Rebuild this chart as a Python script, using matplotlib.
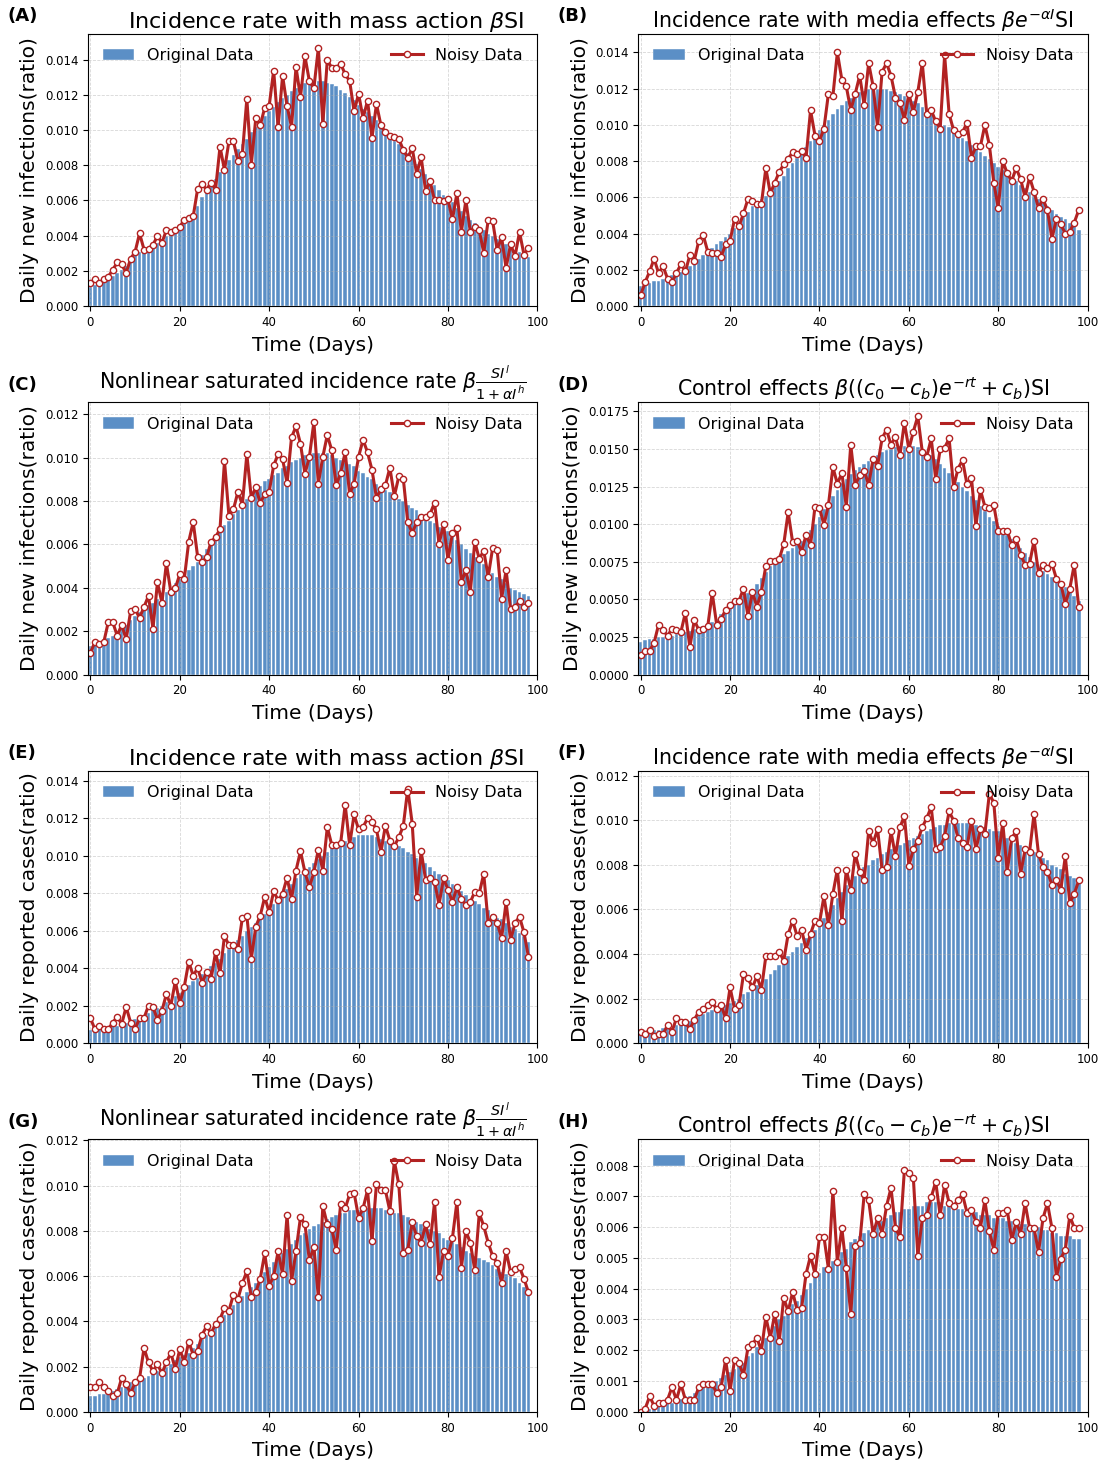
import numpy as np
import matplotlib
matplotlib.use("Agg")
import matplotlib.pyplot as plt

days = np.arange(99)

# --- daily new infections, four incidence models ---
a_orig = [0.0011, 0.0012, 0.0013, 0.00142, 0.00155, 0.0017, 0.00187, 0.00205, 0.00225, 0.0026,
          0.0029, 0.0031, 0.0032, 0.0033, 0.0034, 0.0036, 0.0038, 0.0040, 0.0042, 0.0043,
          0.0044, 0.0047, 0.0050, 0.0053, 0.0057, 0.0062, 0.0066, 0.0069, 0.0072, 0.0076,
          0.0080, 0.0083, 0.0086, 0.0089, 0.0092, 0.0095, 0.0099, 0.0102, 0.0105, 0.0108,
          0.0111, 0.0113, 0.0116, 0.0118, 0.0120, 0.0122, 0.0124, 0.0126, 0.0127, 0.0128,
          0.0128, 0.0128, 0.0128, 0.0127, 0.0126, 0.0125, 0.0123, 0.0121, 0.0119, 0.0117,
          0.0114, 0.0112, 0.0110, 0.0108, 0.0106, 0.0103, 0.0100, 0.0097, 0.0094, 0.0092,
          0.0090, 0.0087, 0.0084, 0.0081, 0.0078, 0.0075, 0.0072, 0.0069, 0.0066, 0.0063,
          0.0061, 0.0059, 0.0056, 0.0054, 0.0051, 0.0049, 0.0047, 0.0045, 0.0043, 0.0041,
          0.0040, 0.0038, 0.0036, 0.0035, 0.0033, 0.0032, 0.0031, 0.0029, 0.0028]
a_noisy = [0.00129, 0.00156, 0.00129, 0.00156, 0.00167, 0.00206, 0.00248, 0.00237, 0.00188, 0.00269,
           0.00308, 0.00413, 0.00321, 0.00327, 0.00348, 0.00398, 0.00360, 0.00431, 0.00423, 0.00431,
           0.00450, 0.00490, 0.00500, 0.00510, 0.00667, 0.00692, 0.00662, 0.00702, 0.00662, 0.00906,
           0.00773, 0.00937, 0.00937, 0.00823, 0.00864, 0.01177, 0.00804, 0.01067, 0.01027, 0.01127,
           0.01138, 0.01338, 0.01017, 0.01308, 0.01137, 0.01017, 0.01358, 0.01187, 0.01419, 0.01277,
           0.01238, 0.01467, 0.01036, 0.01398, 0.01354, 0.01354, 0.01377, 0.01317, 0.01279, 0.01106,
           0.01206, 0.01067, 0.01167, 0.00956, 0.01148, 0.01027, 0.00987, 0.00967, 0.00961, 0.00950,
           0.00887, 0.00844, 0.00896, 0.00752, 0.00846, 0.00654, 0.00710, 0.00600, 0.00600, 0.00596,
           0.00606, 0.00492, 0.00642, 0.00421, 0.00602, 0.00421, 0.00452, 0.00431, 0.00302, 0.00490,
           0.00481, 0.00321, 0.00390, 0.00217, 0.00352, 0.00283, 0.00421, 0.00292, 0.00329]

b_orig = [0.0011, 0.0012, 0.0013, 0.0014, 0.0014, 0.0015, 0.0016, 0.0017, 0.0018, 0.0019,
          0.0020, 0.0022, 0.0024, 0.0026, 0.0028, 0.0030, 0.0032, 0.0034, 0.0036, 0.0038,
          0.0040, 0.0043, 0.0046, 0.0049, 0.0052, 0.0055, 0.0057, 0.0059, 0.0061, 0.0063,
          0.0066, 0.0069, 0.0072, 0.0076, 0.0079, 0.0082, 0.0085, 0.0088, 0.0091, 0.0094,
          0.0097, 0.0100, 0.0103, 0.0106, 0.0109, 0.0111, 0.0113, 0.0115, 0.0117, 0.0118,
          0.0119, 0.0120, 0.0120, 0.0120, 0.0120, 0.0120, 0.0119, 0.0118, 0.0117, 0.0116,
          0.0115, 0.0113, 0.0112, 0.0110, 0.0108, 0.0106, 0.0104, 0.0102, 0.0100, 0.0099,
          0.0097, 0.0095, 0.0093, 0.0091, 0.0089, 0.0087, 0.0085, 0.0083, 0.0081, 0.0079,
          0.0077, 0.0075, 0.0073, 0.0071, 0.0069, 0.0067, 0.0065, 0.0063, 0.0061, 0.0059,
          0.0057, 0.0055, 0.0053, 0.0051, 0.0049, 0.0048, 0.0046, 0.0044, 0.0042]
b_noisy = [0.00061, 0.00132, 0.00191, 0.00261, 0.00182, 0.00220, 0.00152, 0.00132, 0.00182, 0.00231,
           0.00191, 0.00281, 0.00251, 0.00361, 0.00391, 0.00301, 0.00292, 0.00292, 0.00272, 0.00341,
           0.00361, 0.00481, 0.00440, 0.00512, 0.00591, 0.00582, 0.00562, 0.00562, 0.00761, 0.00622,
           0.00681, 0.00741, 0.00782, 0.00813, 0.00850, 0.00842, 0.00857, 0.00820, 0.01081, 0.00941,
           0.00912, 0.00980, 0.01173, 0.01160, 0.01400, 0.01250, 0.01213, 0.01081, 0.01173, 0.01272,
           0.01110, 0.01341, 0.01213, 0.00989, 0.01292, 0.01341, 0.01272, 0.01151, 0.01121, 0.01030,
           0.01173, 0.01070, 0.01182, 0.01341, 0.01061, 0.01081, 0.01020, 0.00980, 0.01385, 0.01061,
           0.00971, 0.00950, 0.00960, 0.01011, 0.00820, 0.00881, 0.00881, 0.01000, 0.00890, 0.00681,
           0.00540, 0.00802, 0.00732, 0.00692, 0.00761, 0.00701, 0.00600, 0.00712, 0.00631, 0.00541,
           0.00591, 0.00530, 0.00371, 0.00481, 0.00451, 0.00400, 0.00411, 0.00461, 0.00530]

c_orig = [0.0013, 0.0014, 0.0015, 0.0016, 0.0017, 0.0018, 0.0020, 0.0021, 0.0023, 0.0025,
          0.0027, 0.0029, 0.0030, 0.0032, 0.0033, 0.0035, 0.0037, 0.0038, 0.0040, 0.0042,
          0.0044, 0.0046, 0.0048, 0.0050, 0.0052, 0.0055, 0.0058, 0.0061, 0.0064, 0.0066,
          0.0069, 0.0071, 0.0074, 0.0076, 0.0079, 0.0081, 0.0083, 0.0085, 0.0087, 0.0089,
          0.0090, 0.0092, 0.0093, 0.0095, 0.0096, 0.0098, 0.0099, 0.0100, 0.0101, 0.0101,
          0.0102, 0.0102, 0.0102, 0.0102, 0.0101, 0.0100, 0.0099, 0.0098, 0.0097, 0.0096,
          0.0094, 0.0093, 0.0091, 0.0090, 0.0088, 0.0086, 0.0085, 0.0084, 0.0082, 0.0081,
          0.0080, 0.0078, 0.0077, 0.0076, 0.0074, 0.0073, 0.0071, 0.0070, 0.0068, 0.0067,
          0.0066, 0.0064, 0.0062, 0.0060, 0.0058, 0.0056, 0.0054, 0.0052, 0.0051, 0.0049,
          0.0047, 0.0045, 0.0044, 0.0042, 0.0040, 0.0039, 0.0038, 0.0037, 0.0036]
c_noisy = [0.00100, 0.00150, 0.00142, 0.00150, 0.00242, 0.00242, 0.00179, 0.00230, 0.00162, 0.00292,
           0.00301, 0.00262, 0.00312, 0.00363, 0.00212, 0.00425, 0.00332, 0.00513, 0.00381, 0.00398,
           0.00463, 0.00440, 0.00613, 0.00703, 0.00542, 0.00520, 0.00540, 0.00613, 0.00632, 0.00672,
           0.00984, 0.00730, 0.00761, 0.00842, 0.00783, 0.01015, 0.00814, 0.00863, 0.00790, 0.00832,
           0.00842, 0.00964, 0.01015, 0.00993, 0.00882, 0.01093, 0.01144, 0.01064, 0.00925, 0.01004,
           0.01164, 0.00880, 0.01004, 0.01104, 0.01033, 0.00872, 0.00931, 0.01024, 0.00832, 0.00880,
           0.01004, 0.01082, 0.01024, 0.00943, 0.00814, 0.00854, 0.00872, 0.00953, 0.00823, 0.00913,
           0.00903, 0.00703, 0.00652, 0.00703, 0.00726, 0.00726, 0.00741, 0.00792, 0.00602, 0.00692,
           0.00530, 0.00652, 0.00675, 0.00425, 0.00483, 0.00381, 0.00613, 0.00533, 0.00571, 0.00451,
           0.00585, 0.00574, 0.00350, 0.00482, 0.00301, 0.00312, 0.00338, 0.00313, 0.00332]

d_orig = [0.0022, 0.0023, 0.0024, 0.0024, 0.0025, 0.0025, 0.0026, 0.0026, 0.0027, 0.0027,
          0.0028, 0.0029, 0.0030, 0.0031, 0.0032, 0.0033, 0.0035, 0.0037, 0.0040, 0.0043,
          0.0046, 0.0048, 0.0050, 0.0052, 0.0054, 0.0057, 0.0060, 0.0064, 0.0068, 0.0072,
          0.0076, 0.0078, 0.0080, 0.0082, 0.0084, 0.0086, 0.0089, 0.0092, 0.0096, 0.0100,
          0.0105, 0.0110, 0.0115, 0.0119, 0.0123, 0.0127, 0.0130, 0.0133, 0.0136, 0.0138,
          0.0140, 0.0142, 0.0144, 0.0146, 0.0148, 0.0149, 0.0150, 0.0151, 0.0152, 0.0152,
          0.0152, 0.0152, 0.0151, 0.0150, 0.0148, 0.0146, 0.0143, 0.0140, 0.0137, 0.0134,
          0.0131, 0.0128, 0.0125, 0.0122, 0.0119, 0.0116, 0.0112, 0.0109, 0.0105, 0.0102,
          0.0099, 0.0096, 0.0093, 0.0090, 0.0087, 0.0084, 0.0081, 0.0078, 0.0075, 0.0072,
          0.0069, 0.0067, 0.0065, 0.0062, 0.0060, 0.0058, 0.0055, 0.0052, 0.0049]
d_noisy = [0.00131, 0.00157, 0.00160, 0.00211, 0.00332, 0.00295, 0.00259, 0.00304, 0.00295, 0.00284,
           0.00412, 0.00182, 0.00363, 0.00295, 0.00304, 0.00321, 0.00543, 0.00332, 0.00370, 0.00430,
           0.00461, 0.00490, 0.00490, 0.00572, 0.00390, 0.00550, 0.00450, 0.00550, 0.00722, 0.00756,
           0.00756, 0.00769, 0.00866, 0.01079, 0.00878, 0.00889, 0.00815, 0.00929, 0.00860, 0.01117,
           0.01108, 0.00995, 0.01126, 0.01378, 0.01268, 0.01339, 0.01117, 0.01527, 0.01259, 0.01325,
           0.01356, 0.01259, 0.01436, 0.01387, 0.01569, 0.01627, 0.01527, 0.01580, 0.01458, 0.01675,
           0.01498, 0.01615, 0.01717, 0.01480, 0.01449, 0.01569, 0.01299, 0.01498, 0.01507, 0.01569,
           0.01245, 0.01369, 0.01425, 0.01265, 0.01307, 0.00988, 0.01228, 0.01117, 0.01108, 0.01126,
           0.00955, 0.00955, 0.00957, 0.00860, 0.00900, 0.00798, 0.00729, 0.00738, 0.00889, 0.00678,
           0.00729, 0.00707, 0.00738, 0.00638, 0.00605, 0.00470, 0.00572, 0.00731, 0.00450]

# --- daily reported cases, same four models ---
e_orig = [0.0007, 0.0007, 0.0008, 0.0008, 0.0008, 0.0009, 0.0009, 0.0010, 0.0011, 0.0012,
          0.0013, 0.0014, 0.0015, 0.0016, 0.0018, 0.0019, 0.0020, 0.0022, 0.0023, 0.0025,
          0.0027, 0.0029, 0.0031, 0.0033, 0.0035, 0.0037, 0.0039, 0.0041, 0.0043, 0.0045,
          0.0048, 0.0050, 0.0052, 0.0055, 0.0057, 0.0060, 0.0062, 0.0064, 0.0066, 0.0069,
          0.0071, 0.0074, 0.0076, 0.0079, 0.0082, 0.0085, 0.0088, 0.0090, 0.0092, 0.0094,
          0.0096, 0.0098, 0.0100, 0.0102, 0.0104, 0.0105, 0.0107, 0.0108, 0.0109, 0.0110,
          0.0111, 0.0111, 0.0111, 0.0111, 0.0110, 0.0109, 0.0108, 0.0107, 0.0106, 0.0105,
          0.0104, 0.0102, 0.0101, 0.0099, 0.0098, 0.0096, 0.0094, 0.0092, 0.0090, 0.0088,
          0.0087, 0.0085, 0.0083, 0.0081, 0.0079, 0.0077, 0.0076, 0.0074, 0.0072, 0.0071,
          0.0069, 0.0067, 0.0066, 0.0064, 0.0062, 0.0061, 0.0059, 0.0057, 0.0054]
e_noisy = [0.00134, 0.00075, 0.00093, 0.00075, 0.00075, 0.00110, 0.00141, 0.00102, 0.00194, 0.00110,
           0.00075, 0.00134, 0.00134, 0.00201, 0.00194, 0.00125, 0.00173, 0.00262, 0.00201, 0.00331,
           0.00212, 0.00301, 0.00435, 0.00360, 0.00401, 0.00321, 0.00381, 0.00342, 0.00484, 0.00372,
           0.00573, 0.00522, 0.00522, 0.00502, 0.00670, 0.00680, 0.00449, 0.00622, 0.00680, 0.00780,
           0.00698, 0.00810, 0.00762, 0.00798, 0.00883, 0.00769, 0.00921, 0.01024, 0.00912, 0.00832,
           0.00912, 0.01033, 0.00921, 0.01152, 0.01058, 0.01058, 0.01069, 0.01272, 0.01058, 0.01220,
           0.01140, 0.01152, 0.01200, 0.01179, 0.01140, 0.01019, 0.01161, 0.01081, 0.01051, 0.01099,
           0.01158, 0.01357, 0.01170, 0.00780, 0.01024, 0.00871, 0.00880, 0.00862, 0.00739, 0.00880,
           0.00819, 0.00752, 0.00832, 0.00769, 0.00737, 0.00752, 0.00809, 0.00801, 0.00903, 0.00641,
           0.00675, 0.00641, 0.00561, 0.00752, 0.00549, 0.00641, 0.00675, 0.00591, 0.00461]

f_orig = [0.0005, 0.0005, 0.0006, 0.0006, 0.0006, 0.0007, 0.0007, 0.0007, 0.0008, 0.0008,
          0.0009, 0.0010, 0.0011, 0.0012, 0.0013, 0.0014, 0.0015, 0.0016, 0.0016, 0.0017,
          0.0018, 0.0019, 0.0020, 0.0022, 0.0023, 0.0024, 0.0026, 0.0027, 0.0029, 0.0031,
          0.0033, 0.0035, 0.0037, 0.0039, 0.0041, 0.0043, 0.0045, 0.0047, 0.0049, 0.0051,
          0.0053, 0.0056, 0.0059, 0.0062, 0.0065, 0.0068, 0.0071, 0.0073, 0.0075, 0.0077,
          0.0079, 0.0080, 0.0082, 0.0083, 0.0085, 0.0086, 0.0087, 0.0088, 0.0089, 0.0090,
          0.0091, 0.0092, 0.0093, 0.0094, 0.0095, 0.0096, 0.0097, 0.0098, 0.0098, 0.0099,
          0.0099, 0.0099, 0.0099, 0.0099, 0.0099, 0.0098, 0.0098, 0.0097, 0.0096, 0.0095,
          0.0095, 0.0094, 0.0092, 0.0091, 0.0090, 0.0089, 0.0088, 0.0087, 0.0086, 0.0084,
          0.0083, 0.0082, 0.0080, 0.0079, 0.0078, 0.0076, 0.0075, 0.0074, 0.0072]
f_noisy = [0.00052, 0.00043, 0.00060, 0.00033, 0.00040, 0.00040, 0.00081, 0.00052, 0.00112, 0.00093,
           0.00093, 0.00063, 0.00105, 0.00142, 0.00153, 0.00171, 0.00183, 0.00153, 0.00171, 0.00112,
           0.00250, 0.00153, 0.00171, 0.00310, 0.00291, 0.00250, 0.00300, 0.00240, 0.00390, 0.00390,
           0.00390, 0.00410, 0.00370, 0.00490, 0.00550, 0.00480, 0.00510, 0.00420, 0.00490, 0.00550,
           0.00540, 0.00659, 0.00530, 0.00670, 0.00779, 0.00550, 0.00779, 0.00689, 0.00849, 0.00770,
           0.00730, 0.00950, 0.00899, 0.00959, 0.00779, 0.00790, 0.00950, 0.00839, 0.00969, 0.01019,
           0.00797, 0.00869, 0.00909, 0.00969, 0.01010, 0.01059, 0.00869, 0.00879, 0.00929, 0.01040,
           0.00999, 0.00920, 0.00899, 0.00879, 0.00999, 0.00869, 0.00959, 0.00939, 0.01119, 0.01079,
           0.00830, 0.00989, 0.00770, 0.00920, 0.00950, 0.00760, 0.00869, 0.00860, 0.01029, 0.00849,
           0.00790, 0.00770, 0.00710, 0.00730, 0.00689, 0.00839, 0.00629, 0.00670, 0.00730]

g_orig = [0.0007, 0.0007, 0.0008, 0.0008, 0.0008, 0.0009, 0.0010, 0.0011, 0.0012, 0.0013,
          0.0013, 0.0014, 0.0015, 0.0016, 0.0017, 0.0018, 0.0019, 0.0020, 0.0021, 0.0023,
          0.0024, 0.0025, 0.0026, 0.0028, 0.0030, 0.0032, 0.0034, 0.0036, 0.0038, 0.0041,
          0.0043, 0.0045, 0.0047, 0.0049, 0.0051, 0.0053, 0.0055, 0.0057, 0.0059, 0.0062,
          0.0064, 0.0066, 0.0068, 0.0070, 0.0072, 0.0074, 0.0076, 0.0078, 0.0079, 0.0081,
          0.0082, 0.0083, 0.0084, 0.0085, 0.0086, 0.0087, 0.0088, 0.0088, 0.0089, 0.0089,
          0.0089, 0.0090, 0.0090, 0.0090, 0.0090, 0.0090, 0.0089, 0.0089, 0.0088, 0.0088,
          0.0087, 0.0086, 0.0085, 0.0084, 0.0083, 0.0082, 0.0081, 0.0080, 0.0079, 0.0077,
          0.0076, 0.0075, 0.0074, 0.0073, 0.0071, 0.0070, 0.0069, 0.0068, 0.0067, 0.0066,
          0.0065, 0.0063, 0.0062, 0.0061, 0.0060, 0.0059, 0.0057, 0.0055, 0.0052]
g_noisy = [0.00109, 0.00109, 0.00130, 0.00109, 0.00090, 0.00068, 0.00081, 0.00149, 0.00123, 0.00081,
           0.00130, 0.00149, 0.00282, 0.00218, 0.00179, 0.00211, 0.00170, 0.00218, 0.00260, 0.00189,
           0.00277, 0.00218, 0.00310, 0.00251, 0.00270, 0.00341, 0.00378, 0.00348, 0.00388, 0.00410,
           0.00459, 0.00447, 0.00518, 0.00499, 0.00568, 0.00621, 0.00508, 0.00528, 0.00589, 0.00700,
           0.00558, 0.00599, 0.00710, 0.00607, 0.00869, 0.00577, 0.00710, 0.00860, 0.00828, 0.00669,
           0.00729, 0.00506, 0.00909, 0.00828, 0.00809, 0.00717, 0.00920, 0.00899, 0.00961, 0.00968,
           0.00858, 0.00899, 0.00979, 0.00754, 0.01008, 0.00979, 0.00979, 0.00887, 0.01108, 0.01005,
           0.00700, 0.00717, 0.00838, 0.00776, 0.00747, 0.00828, 0.00740, 0.00928, 0.00596, 0.00710,
           0.00688, 0.00769, 0.00928, 0.00636, 0.00799, 0.00747, 0.00626, 0.00878, 0.00821, 0.00747,
           0.00688, 0.00658, 0.00568, 0.00710, 0.00618, 0.00629, 0.00639, 0.00589, 0.00528]

h_orig = [0.0000, 0.0001, 0.0001, 0.0001, 0.0002, 0.0002, 0.0003, 0.0003, 0.0004, 0.0004,
          0.0005, 0.0005, 0.0006, 0.0007, 0.0008, 0.0009, 0.0009, 0.0010, 0.0011, 0.0012,
          0.0013, 0.0014, 0.0015, 0.0016, 0.0018, 0.0019, 0.0021, 0.0022, 0.0024, 0.0026,
          0.0028, 0.0030, 0.0031, 0.0033, 0.0035, 0.0036, 0.0038, 0.0040, 0.0042, 0.0044,
          0.0045, 0.0047, 0.0048, 0.0049, 0.0051, 0.0052, 0.0053, 0.0055, 0.0056, 0.0057,
          0.0058, 0.0059, 0.0060, 0.0061, 0.0062, 0.0063, 0.0064, 0.0065, 0.0065, 0.0066,
          0.0066, 0.0067, 0.0067, 0.0067, 0.0068, 0.0068, 0.0068, 0.0068, 0.0067, 0.0067,
          0.0067, 0.0066, 0.0066, 0.0066, 0.0065, 0.0065, 0.0064, 0.0064, 0.0064, 0.0063,
          0.0063, 0.0063, 0.0062, 0.0062, 0.0062, 0.0061, 0.0061, 0.0060, 0.0060, 0.0060,
          0.0059, 0.0059, 0.0058, 0.0058, 0.0057, 0.0057, 0.0057, 0.0056, 0.0056]
h_noisy = [0.00000, 0.00010, 0.00050, 0.00020, 0.00030, 0.00030, 0.00039, 0.00080, 0.00039, 0.00090,
           0.00039, 0.00039, 0.00039, 0.00080, 0.00090, 0.00090, 0.00090, 0.00061, 0.00080, 0.00169,
           0.00068, 0.00169, 0.00158, 0.00118, 0.00209, 0.00220, 0.00240, 0.00198, 0.00308, 0.00240,
           0.00319, 0.00229, 0.00370, 0.00326, 0.00389, 0.00330, 0.00337, 0.00448, 0.00507, 0.00448,
           0.00568, 0.00568, 0.00465, 0.00717, 0.00487, 0.00597, 0.00467, 0.00318, 0.00538, 0.00547,
           0.00706, 0.00687, 0.00578, 0.00628, 0.00578, 0.00668, 0.00727, 0.00597, 0.00567, 0.00787,
           0.00776, 0.00760, 0.00507, 0.00628, 0.00638, 0.00697, 0.00747, 0.00638, 0.00738, 0.00679,
           0.00668, 0.00688, 0.00706, 0.00647, 0.00657, 0.00617, 0.00597, 0.00687, 0.00586, 0.00527,
           0.00647, 0.00647, 0.00657, 0.00557, 0.00617, 0.00578, 0.00678, 0.00597, 0.00597, 0.00518,
           0.00628, 0.00678, 0.00597, 0.00437, 0.00498, 0.00527, 0.00637, 0.00597, 0.00597]

T_MASS = r"Incidence rate with mass action $\beta$SI"
T_MEDIA = r"Incidence rate with media effects $\beta e^{-\alpha I}$SI"
T_SAT = r"Nonlinear saturated incidence rate $\beta\frac{SI^l}{1+\alpha I^h}$"
T_CTRL = r"Control effects $\beta((c_0-c_b)e^{-rt}+c_b)$SI"

Y_INF = "Daily new infections(ratio)"
Y_REP = "Daily reported cases(ratio)"

# (tag, title, title size, title x, ylabel, bars, noisy, y upper limit)
panels = [
    ("(A)", T_MASS, 16, 0.53, Y_INF, a_orig, a_noisy, 0.01548),
    ("(B)", T_MEDIA, 14.8, 0.5, Y_INF, b_orig, b_noisy, 0.01504),
    ("(C)", T_SAT, 14.8, 0.5, Y_INF, c_orig, c_noisy, 0.01255),
    ("(D)", T_CTRL, 14.8, 0.5, Y_INF, d_orig, d_noisy, 0.0181),
    ("(E)", T_MASS, 16, 0.53, Y_REP, e_orig, e_noisy, 0.01453),
    ("(F)", T_MEDIA, 14.8, 0.5, Y_REP, f_orig, f_noisy, 0.01222),
    ("(G)", T_SAT, 14.8, 0.5, Y_REP, g_orig, g_noisy, 0.01204),
    ("(H)", T_CTRL, 14.8, 0.5, Y_REP, h_orig, h_noisy, 0.00885),
]

BAR_COLOR = "#5b8fc6"
LINE_COLOR = "#b22222"

fig, axes = plt.subplots(4, 2, figsize=(11.02, 14.63), dpi=100)
fig.subplots_adjust(left=0.080, right=0.987, bottom=0.035, top=0.977,
                    wspace=0.225, hspace=0.353)

for ax, (tag, title, tsize, tx, ylabel, orig, noisy, ymax) in zip(axes.flat, panels):
    bars = ax.bar(days, orig, width=0.8, color=BAR_COLOR, edgecolor="white",
                  linewidth=0.3, label="Original Data")
    line, = ax.plot(days, noisy, color=LINE_COLOR, linewidth=2.2, marker="o",
                    markersize=4.5, markerfacecolor="white",
                    markeredgecolor=LINE_COLOR, markeredgewidth=1,
                    label="Noisy Data")
    ax.set_xlim(-0.5, 100)
    ax.set_ylim(0, ymax)
    ax.set_xticks(range(0, 101, 20))
    ax.tick_params(labelsize=8.5)
    ax.grid(True, linestyle="--", linewidth=0.6, alpha=0.5)
    ax.set_title(title, fontsize=tsize, x=tx, pad=4)
    ax.set_xlabel("Time (Days)", fontsize=14.5, labelpad=5)
    ax.set_ylabel(ylabel, fontsize=14.5)
    ax.legend(handles=[bars, line], loc="upper left",
              bbox_to_anchor=(0.0, 0.0, 1.0, 1.0), ncol=2, mode="expand",
              frameon=False, fontsize=11.5)
    ax.text(-0.18, 1.065, tag, transform=ax.transAxes, fontsize=13,
            fontweight="bold", va="center")

fig.savefig("out.png", dpi=100)
